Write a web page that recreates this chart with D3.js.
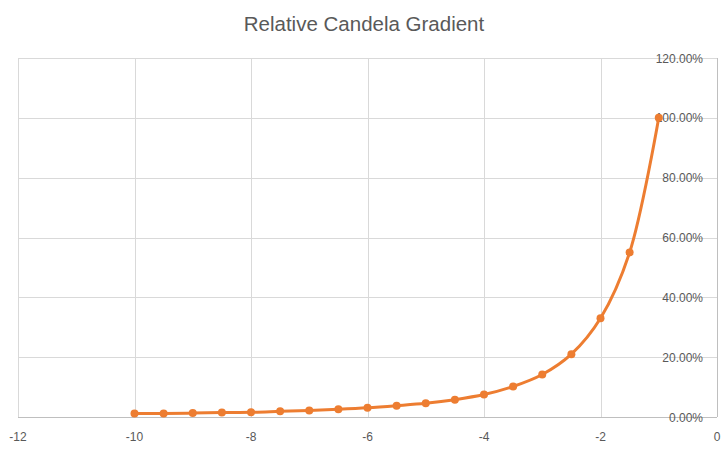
<!DOCTYPE html>
<html><head><meta charset="utf-8">
<script src="https://cdn.jsdelivr.net/npm/d3@7"></script>
<style>body{margin:0;background:#fff;}svg{display:block;font-family:"Liberation Sans","Noto Sans",sans-serif;}</style>
</head><body><svg id="c" width="728" height="452"></svg>
<script>
const xValues = [-10,-9.5,-9,-8.5,-8,-7.5,-7,-6.5,-6,-5.5,-5,-4.5,-4,-3.5,-3,-2.5,-2,-1.5,-1];
const yValues = [0.012,0.012,0.013,0.015,0.016,0.019,0.022,0.026,0.031,0.038,0.046,0.058,0.075,0.102,0.142,0.21,0.33,0.55,1.0];
const xTicks = [-12,-10,-8,-6,-4,-2,0];
const yTicks = [0,0.2,0.4,0.6,0.8,1.0,1.2];
const title = "Relative Candela Gradient";

const svg = d3.select("#c");
const x = d3.scaleLinear().domain([-12,0]).range([18,717]);
const y = d3.scaleLinear().domain([0,1.2]).range([417,58]);

svg.append("text").attr("x",364).attr("y",31).attr("text-anchor","middle")
  .attr("font-size",20.5).attr("fill","#595959").text(title);

const g = svg.append("g");
g.selectAll(".vg").data(xTicks.filter(d=>d!==0)).enter().append("line")
  .attr("x1",d=>Math.round(x(d))+0.5).attr("x2",d=>Math.round(x(d))+0.5)
  .attr("y1",y(1.2)).attr("y2",y(0)).attr("stroke","#d9d9d9");
g.selectAll(".hg").data(yTicks.filter(d=>d!==0)).enter().append("line")
  .attr("y1",d=>Math.round(y(d))+0.5).attr("y2",d=>Math.round(y(d))+0.5)
  .attr("x1",x(-12)).attr("x2",x(0)).attr("stroke","#d9d9d9");
g.append("line").attr("x1",x(-12)).attr("x2",x(0)).attr("y1",Math.round(y(0))+0.5).attr("y2",Math.round(y(0))+0.5).attr("stroke","#bfbfbf");
g.append("line").attr("x1",Math.round(x(0))+0.5).attr("x2",Math.round(x(0))+0.5).attr("y1",y(1.2)).attr("y2",y(0)).attr("stroke","#bfbfbf");

svg.selectAll(".xt").data(xTicks).enter().append("text")
  .attr("x",d=>x(d)).attr("y",441).attr("text-anchor","middle")
  .attr("font-size",12).attr("fill","#595959").text(d=>d);
svg.selectAll(".yt").data(yTicks).enter().append("text")
  .attr("x",703).attr("y",d=>y(d)+4.5).attr("text-anchor","end")
  .attr("font-size",12).attr("fill","#595959").text(d=>d3.format(".2%")(d));

const pts = xValues.map((v,i)=>[v,yValues[i]]);
const line = d3.line().x(d=>x(d[0])).y(d=>y(d[1])).curve(d3.curveCatmullRom.alpha(0.5));
svg.append("path").attr("d",line(pts)).attr("fill","none").attr("stroke","#ED7D31").attr("stroke-width",3).attr("stroke-linejoin","round");
svg.selectAll(".pt").data(pts).enter().append("circle")
  .attr("cx",d=>x(d[0])).attr("cy",d=>y(d[1])).attr("r",4).attr("fill","#ED7D31");
</script></body></html>
